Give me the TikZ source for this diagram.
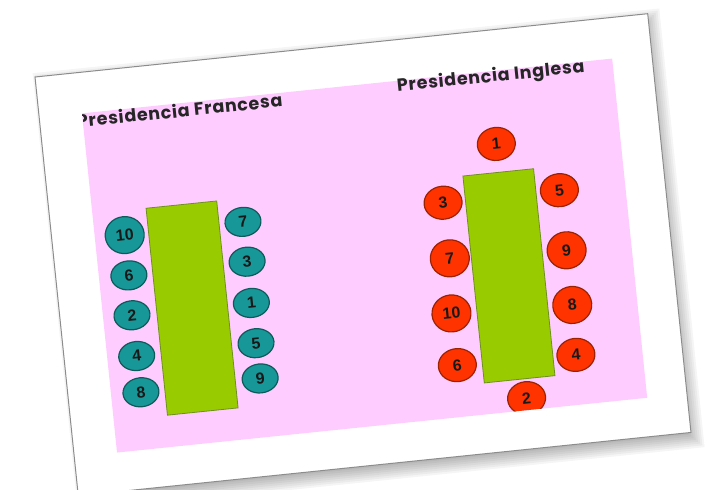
\documentclass[tikz,border=0pt]{standalone}
\usepackage{fontspec}
\usepackage{xcolor}
\usetikzlibrary{shapes.geometric}

\newfontfamily\titlefont{Poppins}[LetterSpace=4]
\newfontfamily\seatfont{Liberation Sans}

\definecolor{slidepink}{HTML}{FFCCFF}
\definecolor{cardedge}{HTML}{8C8C8C}
\definecolor{tablegreen}{HTML}{99CC00}
\definecolor{tableedge}{HTML}{6F8F1F}
\definecolor{seatteal}{HTML}{179797}
\definecolor{tealedge}{HTML}{0E5A5A}
\definecolor{seatred}{HTML}{FF3300}
\definecolor{rededge}{HTML}{9A2200}

\begin{document}
\begin{tikzpicture}[x=1pt, y=-1pt,
  heading/.style={font=\titlefont\bfseries\fontsize{17.5}{17.5}\selectfont, text=black!85, inner sep=0pt},
  mesa/.style={rectangle, fill=tablegreen, draw=tableedge, line width=0.8pt,
    minimum width=71, minimum height=208, inner sep=0pt},
  seat/.style={ellipse, line width=1.2pt, inner sep=0pt, text=black!90,
    font=\seatfont\bfseries\fontsize{16}{16}\selectfont},
  french/.style={seat, fill=seatteal, draw=tealedge, minimum width=36, minimum height=29},
  english/.style={seat, fill=seatred, draw=rededge, minimum width=38, minimum height=33},
  wide/.style={minimum width=39, minimum height=37}]
  \useasboundingbox (0,0) rectangle (713,490);

  \begin{scope}[shift={(35,77)}, rotate=5.9, transform shape]
    % Shadow
    \foreach \b in {0,2,...,16}
      \fill[black, opacity=0.04] (\b-2, \b-4) rectangle (628-\b, 437-\b);

    % Card
    \filldraw[fill=white, draw=cardedge, line width=1pt] (0,0) rectangle (616,421);
    \fill[slidepink] (43,41) rectangle (576,382);

    \begin{scope}
      \clip (43,20) rectangle (576,382);

      % Titles
      \node[heading, anchor=base west] (tfr) at (37,55) {Presidencia Francesa};
      \node[heading, anchor=base west] (ten) at (359,52) {Presidencia Inglesa};

      % French table
      \node[mesa] (mfr) at (132.5,246) {};
      \node[french, wide] (f10) at (73,166.5) {10};
      \node[french] (f6) at (73,207) {6};
      \node[french] (f2) at (72,247) {2};
      \node[french] (f4) at (72.5,288) {4};
      \node[french] (f8) at (73,324.5) {8};
      \node[french] (f7) at (192,165.5) {7};
      \node[french] (f3) at (192,205.5) {3};
      \node[french] (f1) at (192,247) {1};
      \node[french] (f5) at (192.5,287.5) {5};
      \node[french] (f9) at (193,323) {9};

      % English table
      \node[mesa] (men) at (451,246.5) {};
      \node[english] (e1) at (452,114) {1};
      \node[english] (e3) at (393,167) {3};
      \node[english] (e5) at (510,166.5) {5};
      \node[english, wide] (e7) at (394,223) {7};
      \node[english, wide] (e9) at (511,227) {9};
      \node[english, wide] (e10) at (390,278) {10};
      \node[english, wide] (e8) at (511,282) {8};
      \node[english] (e6) at (390.5,330) {6};
      \node[english] (e4) at (509.5,332) {4};
      \node[english] (e2) at (456,370) {2};
    \end{scope}
  \end{scope}
\end{tikzpicture}
\end{document}
